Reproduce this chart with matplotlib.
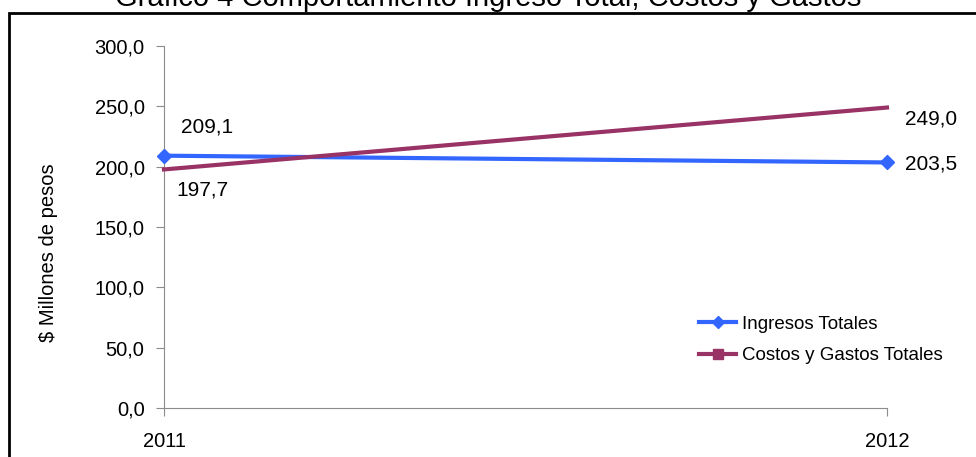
import matplotlib.pyplot as plt
from matplotlib.lines import Line2D
from matplotlib.patches import Rectangle

plt.rcParams['font.family'] = ['Liberation Sans', 'DejaVu Sans']

years = ['2011', '2012']
ingresos = [209.1, 203.5]
costos = [197.7, 249.0]
ingresos_lbl = ['209,1', '203,5']
costos_lbl = ['197,7', '249,0']
yticks = [0, 50, 100, 150, 200, 250, 300]

blue = '#3366ff'
maroon = '#993366'

fig = plt.figure(figsize=(9.76, 4.57), dpi=100)
ax = fig.add_axes([164/976, 1-408/457, (887-164)/976, (408-46)/457])

x = [0, 1]
ax.plot(x, ingresos, color=blue, lw=3, marker='D', ms=7, clip_on=False, zorder=3)
ax.plot(x, costos, color=maroon, lw=3, clip_on=False, zorder=3)

ax.set_xlim(0, 1)
ax.set_ylim(0, 300)
ax.set_yticks(yticks)
ax.set_yticklabels([('%.1f' % v).replace('.', ',') for v in yticks])
ax.set_xticks(x)
ax.set_xticklabels(years)

for s in ['top', 'right']:
    ax.spines[s].set_visible(False)
for s in ['left', 'bottom']:
    ax.spines[s].set_color('#8c8c8c')
ax.tick_params(axis='both', colors='#8c8c8c', labelcolor='black', labelsize=14.5, length=6)
ax.tick_params(axis='y', pad=8)
ax.tick_params(axis='x', pad=11)

ax.set_ylabel('$ Millones de pesos', fontsize=14.5, labelpad=26)
ax.yaxis.label.set_y((408-253)/(408-46))

# data labels
ax.annotate(ingresos_lbl[0], (x[0], ingresos[0]), xytext=(12, 21), textcoords='offset points',
            fontsize=15, va='center', ha='left')
ax.annotate(costos_lbl[0], (x[0], costos[0]), xytext=(9, -15), textcoords='offset points',
            fontsize=15, va='center', ha='left')
ax.annotate(costos_lbl[1], (x[1], costos[1]), xytext=(13, -8), textcoords='offset points',
            fontsize=15, va='center', ha='left')
ax.annotate(ingresos_lbl[1], (x[1], ingresos[1]), xytext=(13, -1), textcoords='offset points',
            fontsize=15, va='center', ha='left')

handles = [Line2D([], [], color=blue, lw=3, marker='D', ms=6),
           Line2D([], [], color=maroon, lw=3, marker='s', ms=7)]
ax.legend(handles, ['Ingresos Totales', 'Costos y Gastos Totales'], loc='upper left',
          bbox_to_anchor=((682-164)/(887-164), (408-299)/(408-46)), frameon=False,
          fontsize=13.5, handlelength=2.0, handletextpad=0.3, labelspacing=0.75)

fig.text(0.5, 1-6/457, 'Gráfico 4 Comportamiento Ingreso Total, Costos y Gastos',
         ha='center', va='baseline', fontsize=21)

fig.patches.append(Rectangle((9/976, -0.05), 1.0, 1-13/457+0.05, transform=fig.transFigure,
                             fill=False, ec='black', lw=2))

fig.savefig('out.png', dpi=100)
